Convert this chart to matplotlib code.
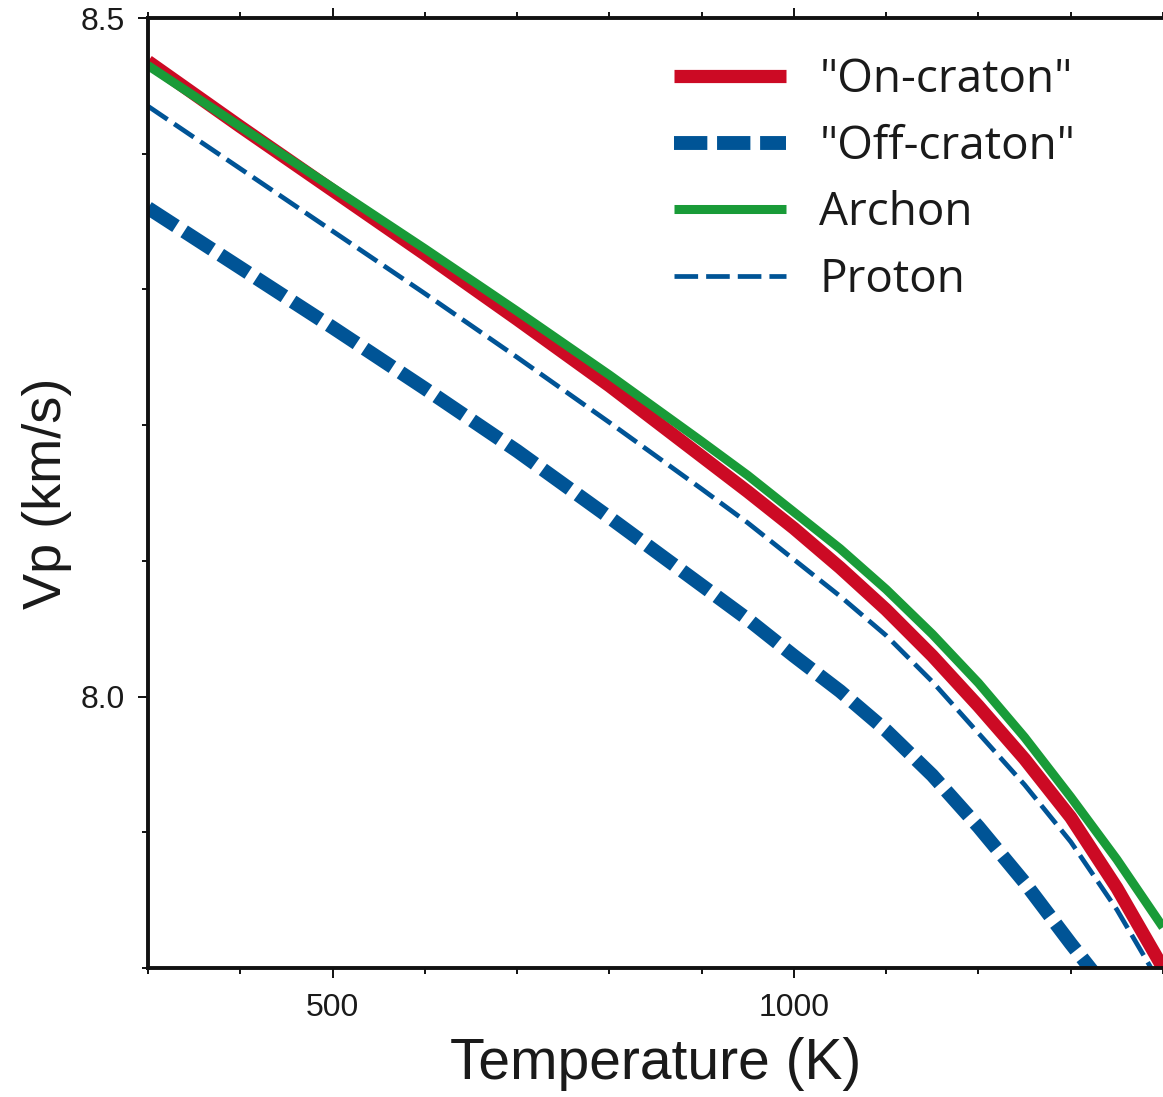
import matplotlib.pyplot as plt
from matplotlib.ticker import MultipleLocator

# temperature (K) sample points
temp = [300, 400, 500, 600, 700, 800, 900, 950, 1000, 1050, 1100, 1150,
        1200, 1250, 1300, 1350, 1400]

on_craton = [8.468, 8.420, 8.373, 8.326, 8.278, 8.229, 8.177, 8.151, 8.124, 8.095,
             8.064, 8.030, 7.993, 7.954, 7.911, 7.859, 7.800]
off_craton = [8.360, 8.316, 8.272, 8.227, 8.181, 8.132, 8.082, 8.057, 8.030, 8.004,
              7.975, 7.942, 7.904, 7.863, 7.818, 7.775, 7.730]
archon = [8.465, 8.420, 8.375, 8.330, 8.284, 8.237, 8.188, 8.163, 8.136, 8.109,
          8.079, 8.046, 8.010, 7.970, 7.926, 7.880, 7.830]
proton = [8.435, 8.389, 8.343, 8.297, 8.250, 8.202, 8.153, 8.128, 8.101, 8.074,
          8.045, 8.011, 7.973, 7.935, 7.893, 7.843, 7.785]

red = '#cc0a24'
blue = '#005496'
green = '#199b38'

fig = plt.figure(figsize=(11.63, 10.97), dpi=100)
ax = fig.add_axes([148 / 1163, 1 - 968 / 1097, 1 - 148 / 1163, 950 / 1097])

ax.plot(temp, off_craton, color=blue, linewidth=10, linestyle=(0, (2.4, 0.7)),
        label='"Off-craton"', dash_capstyle='butt')
ax.plot(temp, proton, color=blue, linewidth=3.4, linestyle=(0, (5, 1.7)),
        label='Proton', dash_capstyle='butt')
ax.plot(temp, on_craton, color=red, linewidth=9.5, label='"On-craton"',
        solid_capstyle='butt')
ax.plot(temp, archon, color=green, linewidth=6.5, label='Archon',
        solid_capstyle='butt')

ax.set_xlim(300, 1400)
ax.set_ylim(7.8, 8.5)

ax.xaxis.set_major_locator(MultipleLocator(500))
ax.xaxis.set_minor_locator(MultipleLocator(100))
ax.yaxis.set_major_locator(MultipleLocator(0.5))
ax.yaxis.set_minor_locator(MultipleLocator(0.1))
ax.yaxis.set_major_formatter(plt.FormatStrFormatter('%.1f'))

for s in ('left', 'bottom', 'top'):
    ax.spines[s].set_linewidth(2.8)
    ax.spines[s].set_color('#111111')
ax.spines['right'].set_visible(False)

ax.tick_params(which='both', direction='out', width=1.4, color='#111111',
               top=True, right=False)
ax.tick_params(which='major', length=7)
ax.tick_params(axis='x', which='major', pad=11)
ax.tick_params(axis='y', which='major', pad=10)
ax.tick_params(which='minor', length=4)
for lab in ax.get_xticklabels() + ax.get_yticklabels():
    lab.set_family('Liberation Sans')
    lab.set_fontsize(23)
    lab.set_color('#1a1a1a')

ax.set_xlabel('Temperature (K)', family='Liberation Sans', fontsize=41,
              color='#1a1a1a', labelpad=10)
ax.set_ylabel('Vp (km/s)', family='Liberation Sans', fontsize=39,
              color='#1a1a1a', labelpad=6)

h, l = ax.get_legend_handles_labels()
order = [2, 0, 3, 1]
leg = ax.legend([h[i] for i in order], [l[i] for i in order],
                loc='upper left', bbox_to_anchor=(674 / 1163, 1 - 57 / 1097),
                bbox_transform=fig.transFigure, frameon=False,
                prop={'family': 'Open Sans', 'size': 33},
                handlelength=2.45, handletextpad=0.72, labelspacing=0.45,
                borderpad=0, borderaxespad=0)
for t in leg.get_texts():
    t.set_color('#1a1a1a')

fig.savefig('out.png', dpi=100)
